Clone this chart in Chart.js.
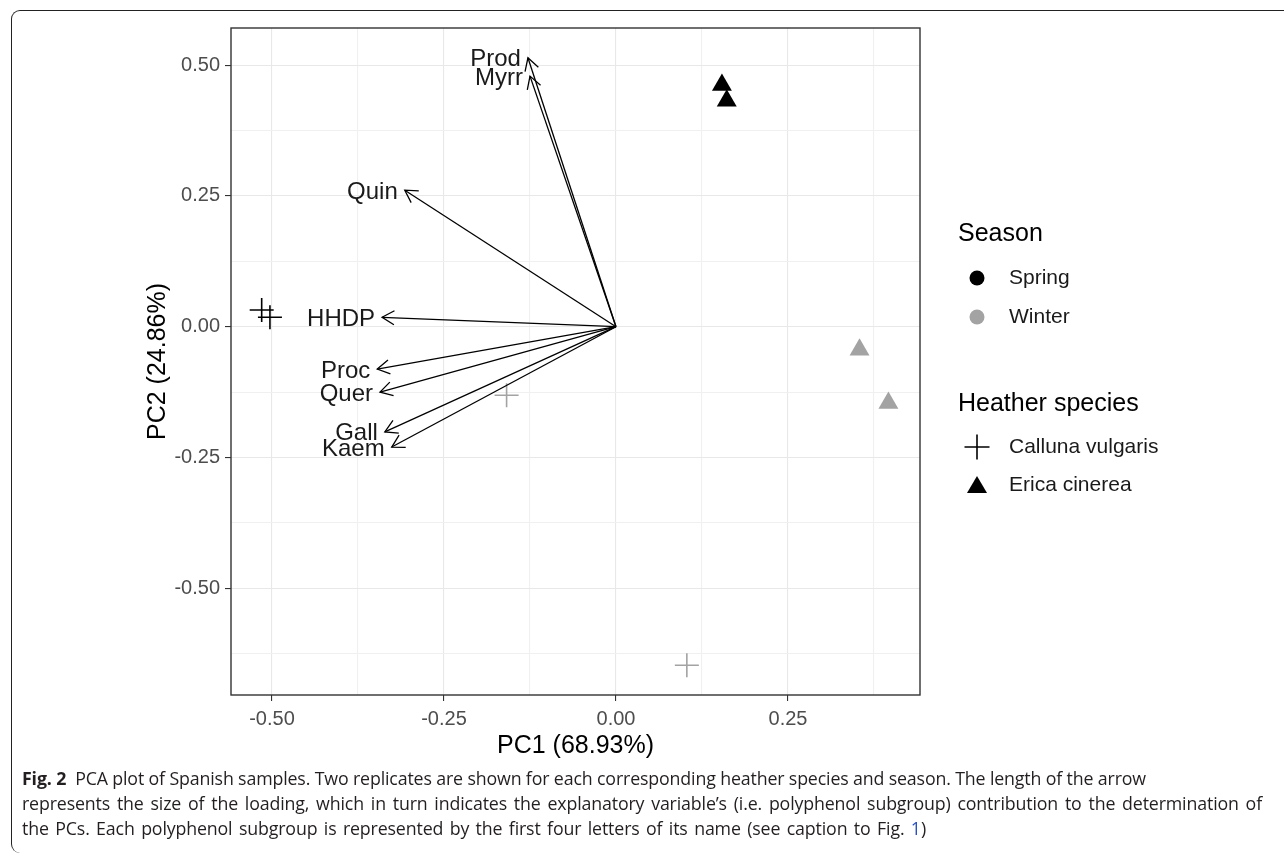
<!DOCTYPE html>
<html>
<head>
<meta charset="utf-8">
<style>
  html, body { margin: 0; padding: 0; background: #fff; }
  body { width: 1284px; height: 854px; position: relative; overflow: hidden; }
  #frame {
    position: absolute; left: 11px; top: 10px; width: 1300px; height: 842px;
    border-left: 1.5px solid #222; border-top: 1.5px solid #222;
    border-radius: 9px 0 0 9px;
  }
  #pca { position: absolute; left: 0; top: 0; }
  #caption {
    position: absolute; left: 22px; top: 766px;
    font-family: "Open Sans", sans-serif; font-size: 17.8px; line-height: 25px;
    color: #231f20; white-space: nowrap; letter-spacing: -0.15px;
  }
  #caption div { text-align: justify; text-align-last: justify; }
  #caption b { font-weight: 700; }
  #caption .ref { color: #2a52be; }
</style>
</head>
<body>
<div id="frame"></div>
<canvas id="pca" width="1284" height="854"></canvas>
<div id="caption">
  <div style="width:1124px"><b>Fig. 2</b>&nbsp; PCA plot of Spanish samples. Two replicates are shown for each corresponding heather species and season. The length of the arrow</div>
  <div style="width:1240px">represents the size of the loading, which in turn indicates the explanatory variable’s (i.e. polyphenol subgroup) contribution to the determination of</div>
  <div style="width:904px">the PCs. Each polyphenol subgroup is represented by the first four letters of its name (see caption to Fig. <span class="ref">1</span>)</div>
</div>

<script src="https://cdn.jsdelivr.net/npm/chart.js/dist/chart.umd.min.js"></script>
<script>
// loadings (arrows from the origin)
const loadingNames = ['Prod', 'Myrr', 'Quin', 'HHDP', 'Proc', 'Quer', 'Gall', 'Kaem'];
const loadingPC1 = [-0.128, -0.125, -0.307, -0.340, -0.347, -0.343, -0.336, -0.326];
const loadingPC2 = [0.514, 0.479, 0.261, 0.018, -0.081, -0.125, -0.201, -0.230];

// sample scores
const callunaSpringPC1 = [-0.515, -0.503];
const callunaSpringPC2 = [0.032, 0.018];
const callunaWinterPC1 = [-0.159, 0.103];
const callunaWinterPC2 = [-0.131, -0.647];
const ericaSpringPC1 = [0.154, 0.161];
const ericaSpringPC2 = [0.462, 0.432];
const ericaWinterPC1 = [0.354, 0.396];
const ericaWinterPC2 = [-0.044, -0.146];

// axes
const xTickValues = [-0.5, -0.25, 0, 0.25];
const xTickLabels = ['-0.50', '-0.25', '0.00', '0.25'];
const xMinorValues = [-0.375, -0.125, 0.125, 0.375];
const yTickValues = [-0.5, -0.25, 0, 0.25, 0.5];
const yTickLabels = ['-0.50', '-0.25', '0.00', '0.25', '0.50'];
const yMinorValues = [-0.625, -0.375, -0.125, 0.125, 0.375];

const seasonNames = ['Spring', 'Winter'];
const speciesNames = ['Calluna vulgaris', 'Erica cinerea'];

const springColor = '#000000';
const winterColor = '#a3a3a3';
const FONT = '"Liberation Sans", Arial, sans-serif';

function toPoints(xs, ys) {
  return xs.map((x, i) => ({ x: x, y: ys[i] }));
}

const datasets = [];

// arrows
loadingNames.forEach((name, i) => {
  datasets.push({
    label: name,
    data: [{ x: 0, y: 0 }, { x: loadingPC1[i], y: loadingPC2[i] }],
    showLine: true,
    borderColor: '#000',
    borderWidth: 1.3,
    pointRadius: 0,
    pointHoverRadius: 0,
    fill: false,
    order: 0
  });
});

// samples
datasets.push({
  label: 'Calluna vulgaris - Spring',
  data: toPoints(callunaSpringPC1, callunaSpringPC2),
  pointStyle: 'cross', pointRadius: 12, pointBorderWidth: 1.6,
  borderColor: springColor, backgroundColor: springColor, order: 1
});
datasets.push({
  label: 'Calluna vulgaris - Winter',
  data: toPoints(callunaWinterPC1, callunaWinterPC2),
  pointStyle: 'cross', pointRadius: 12, pointBorderWidth: 1.6,
  borderColor: winterColor, backgroundColor: winterColor, order: 1
});
datasets.push({
  label: 'Erica cinerea - Spring',
  data: toPoints(ericaSpringPC1, ericaSpringPC2),
  pointStyle: 'triangle', pointRadius: 11.5, pointBorderWidth: 0,
  borderColor: springColor, backgroundColor: springColor, order: 1
});
datasets.push({
  label: 'Erica cinerea - Winter',
  data: toPoints(ericaWinterPC1, ericaWinterPC2),
  pointStyle: 'triangle', pointRadius: 11.5, pointBorderWidth: 0,
  borderColor: winterColor, backgroundColor: winterColor, order: 1
});

// arrow heads, loading names and panel border
const arrowDecor = {
  id: 'arrowDecor',
  afterDatasetsDraw(chart) {
    const { ctx, chartArea, scales } = chart;
    const ox = scales.x.getPixelForValue(0);
    const oy = scales.y.getPixelForValue(0);
    ctx.save();
    ctx.strokeStyle = '#000';
    ctx.lineWidth = 1.3;
    loadingNames.forEach((name, i) => {
      const tx = scales.x.getPixelForValue(loadingPC1[i]);
      const ty = scales.y.getPixelForValue(loadingPC2[i]);
      const ang = Math.atan2(ty - oy, tx - ox);
      const len = 14, spread = Math.PI / 6;
      ctx.beginPath();
      ctx.moveTo(tx - len * Math.cos(ang - spread), ty - len * Math.sin(ang - spread));
      ctx.lineTo(tx, ty);
      ctx.lineTo(tx - len * Math.cos(ang + spread), ty - len * Math.sin(ang + spread));
      ctx.stroke();

      ctx.fillStyle = '#1a1a1a';
      ctx.font = '24px ' + FONT;
      ctx.textAlign = 'right';
      ctx.textBaseline = 'middle';
      ctx.fillText(name, tx - 7, ty + 2);
    });
    // panel border
    ctx.strokeStyle = '#333';
    ctx.lineWidth = 1.4;
    ctx.strokeRect(chartArea.left, chartArea.top,
      chartArea.right - chartArea.left, chartArea.bottom - chartArea.top);
    ctx.restore();
  }
};

// two-part legend to the right of the panel
const groupLegend = {
  id: 'groupLegend',
  afterDraw(chart) {
    const ctx = chart.ctx;
    const left = chart.chartArea.right + 38;
    const keyX = left + 19;
    const textX = left + 51;
    ctx.save();
    ctx.textBaseline = 'middle';
    ctx.textAlign = 'left';

    ctx.fillStyle = '#000';
    ctx.font = '25px ' + FONT;
    ctx.fillText('Season', left, 234);
    const seasonColors = [springColor, winterColor];
    seasonNames.forEach((name, i) => {
      const y = 278 + i * 39;
      ctx.fillStyle = seasonColors[i];
      ctx.beginPath();
      ctx.arc(keyX, y, 7.5, 0, Math.PI * 2);
      ctx.fill();
      ctx.fillStyle = '#1a1a1a';
      ctx.font = '21px ' + FONT;
      ctx.fillText(name, textX, y);
    });

    ctx.fillStyle = '#000';
    ctx.font = '25px ' + FONT;
    ctx.fillText('Heather species', left, 404);
    const styles = ['cross', 'triangle'];
    speciesNames.forEach((name, i) => {
      const y = 447 + i * 38;
      ctx.fillStyle = '#000';
      ctx.strokeStyle = '#000';
      ctx.lineWidth = 1.6;
      if (styles[i] === 'cross') {
        ctx.beginPath();
        ctx.moveTo(keyX - 12.5, y); ctx.lineTo(keyX + 12.5, y);
        ctx.moveTo(keyX, y - 12.5); ctx.lineTo(keyX, y + 12.5);
        ctx.stroke();
      } else {
        ctx.beginPath();
        ctx.moveTo(keyX, y - 9);
        ctx.lineTo(keyX + 10, y + 8);
        ctx.lineTo(keyX - 10, y + 8);
        ctx.closePath();
        ctx.fill();
      }
      ctx.fillStyle = '#1a1a1a';
      ctx.font = '21px ' + FONT;
      ctx.fillText(name, textX, y);
    });
    ctx.restore();
  }
};

function gridColor(minorSet) {
  return ctx => (ctx.tick && minorSet.includes(ctx.tick.value)) ? '#f0f0f0' : '#e8e8e8';
}
function tickColor(majorSet) {
  return ctx => (ctx.tick && majorSet.includes(ctx.tick.value)) ? '#333' : 'rgba(0,0,0,0)';
}

new Chart(document.getElementById('pca'), {
  type: 'scatter',
  data: { datasets: datasets },
  options: {
    responsive: false,
    animation: false,
    devicePixelRatio: 1,
    layout: { padding: { left: 139, top: 28, right: 364, bottom: 89 } },
    plugins: {
      legend: { display: false },
      tooltip: { enabled: false }
    },
    scales: {
      x: {
        type: 'linear',
        min: -0.5596,
        max: 0.4419,
        afterFit(scale) { scale.height = 70; },
        afterBuildTicks(scale) {
          scale.ticks = xTickValues.concat(xMinorValues)
            .sort((a, b) => a - b).map(v => ({ value: v }));
        },
        grid: {
          color: gridColor(xMinorValues),
          tickColor: tickColor(xTickValues),
          lineWidth: 1.1,
          tickLength: 6
        },
        border: { display: false },
        ticks: {
          autoSkip: false,
          maxRotation: 0,
          padding: 6,
          color: '#4d4d4d',
          font: { family: FONT, size: 20 },
          callback: v => {
            const i = xTickValues.indexOf(v);
            return i >= 0 ? xTickLabels[i] : '';
          }
        },
        title: {
          display: true,
          text: 'PC1 (68.93%)',
          color: '#000',
          font: { family: FONT, size: 25 },
          padding: { top: 4, bottom: 4 }
        }
      },
      y: {
        type: 'linear',
        min: -0.704,
        max: 0.571,
        afterFit(scale) { scale.width = 92; },
        afterBuildTicks(scale) {
          scale.ticks = yTickValues.concat(yMinorValues)
            .sort((a, b) => a - b).map(v => ({ value: v }));
        },
        grid: {
          color: gridColor(yMinorValues),
          tickColor: tickColor(yTickValues),
          lineWidth: 1.1,
          tickLength: 6
        },
        border: { display: false },
        ticks: {
          autoSkip: false,
          padding: 5,
          color: '#4d4d4d',
          font: { family: FONT, size: 20 },
          callback: v => {
            const i = yTickValues.indexOf(v);
            return i >= 0 ? yTickLabels[i] : '';
          }
        },
        title: {
          display: true,
          text: 'PC2 (24.86%)',
          color: '#000',
          font: { family: FONT, size: 25 },
          padding: { top: 4, bottom: 4 }
        }
      }
    }
  },
  plugins: [arrowDecor, groupLegend]
});
</script>
</body>
</html>
